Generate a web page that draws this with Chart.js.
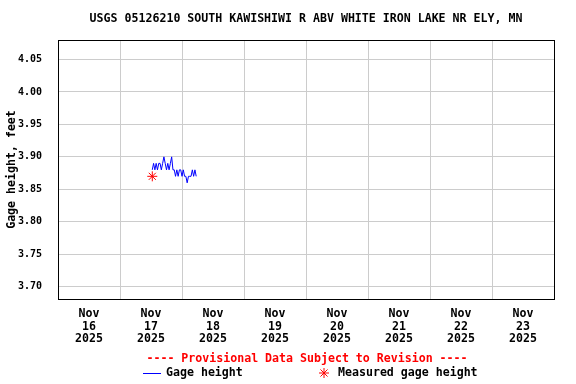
<!DOCTYPE html>
<html>
<head>
<meta charset="utf-8">
<script src="https://cdn.jsdelivr.net/npm/chart.js@4"></script>
<style>
  html, body { margin: 0; padding: 0; background: #fff; }
  #wrap { width: 576px; height: 384px; }
</style>
</head>
<body>
<div id="wrap"><canvas id="gageChart" width="576" height="384"></canvas></div>
<script>
const DAY = 86400000;
const axisStart = Date.parse("2025-11-16T00:00");
const axisEnd = Date.parse("2025-11-24T00:00");

// gage height, 30-minute readings starting at firstReading
const firstReading = "2025-11-17T12:30";
const gageHeight = [
  3.88, 3.89, 3.88, 3.89, 3.88, 3.89, 3.89, 3.88, 3.89, 3.90,
  3.89, 3.88, 3.89, 3.88, 3.89, 3.90, 3.88, 3.88, 3.87, 3.88,
  3.87, 3.88, 3.88, 3.87, 3.88, 3.87, 3.87, 3.86, 3.87, 3.87,
  3.87, 3.88, 3.87, 3.88, 3.87
];
const measuredTimes = ["2025-11-17T12:30"];
const measuredHeight = [3.87];

const dayLabels = [["Nov", "16", "2025"], ["Nov", "17", "2025"], ["Nov", "18", "2025"], ["Nov", "19", "2025"],
                   ["Nov", "20", "2025"], ["Nov", "21", "2025"], ["Nov", "22", "2025"], ["Nov", "23", "2025"]];
const yTicks = [3.70, 3.75, 3.80, 3.85, 3.90, 3.95, 4.00, 4.05];

const startMs = Date.parse(firstReading);
const gageData = gageHeight.map((v, i) => ({ x: startMs + i * 1800000, y: v }));
const measuredData = measuredTimes.map((t, i) => ({ x: Date.parse(t), y: measuredHeight[i] }));

const FONT = "'DejaVu Sans Mono', 'Liberation Mono', monospace";
const FS = 11.6;

const frameAndFooter = {
  id: "frameAndFooter",
  afterDraw(chart) {
    const ctx = chart.ctx;
    const a = chart.chartArea;
    ctx.save();
    ctx.strokeStyle = "#000";
    ctx.lineWidth = 1;
    ctx.strokeRect(Math.round(a.left) + 0.5, Math.round(a.top) + 0.5,
                   Math.round(a.right - a.left), Math.round(a.bottom - a.top));

    ctx.font = "bold " + FS + "px " + FONT;
    ctx.textBaseline = "middle";
    ctx.textAlign = "center";
    ctx.fillStyle = "#ff0000";
    ctx.fillText("---- Provisional Data Subject to Revision ----", 307, 359);
    ctx.textAlign = "left";
    ctx.fillStyle = "#000";
    ctx.fillText("Gage height", 166, 373);
    ctx.fillText("Measured gage height", 338, 373);
    ctx.strokeStyle = "#0000ff";
    ctx.beginPath();
    ctx.moveTo(143, 373.5);
    ctx.lineTo(161, 373.5);
    ctx.stroke();
    ctx.strokeStyle = "#ff0000";
    ctx.beginPath();
    for (let k = 0; k < 4; k++) {
      const ang = k * Math.PI / 4;
      ctx.moveTo(324 - 5 * Math.cos(ang), 373 - 5 * Math.sin(ang));
      ctx.lineTo(324 + 5 * Math.cos(ang), 373 + 5 * Math.sin(ang));
    }
    ctx.stroke();
    ctx.restore();
  }
};

new Chart(document.getElementById("gageChart"), {
  type: "line",
  data: {
    datasets: [
      {
        label: "Gage height",
        data: gageData,
        borderColor: "#0000ff",
        borderWidth: 1,
        pointRadius: 0,
        tension: 0,
        fill: false
      },
      {
        label: "Measured gage height",
        data: measuredData,
        showLine: false,
        pointStyle: "star",
        pointRadius: 5,
        borderColor: "#ff0000",
        backgroundColor: "#ff0000",
        borderWidth: 1
      }
    ]
  },
  plugins: [frameAndFooter],
  options: {
    responsive: false,
    animation: false,
    layout: { padding: { left: 0, right: 22, top: 0, bottom: 35 } },
    plugins: {
      legend: { display: false },
      tooltip: { enabled: false },
      title: {
        display: true,
        fullSize: false,
        text: "USGS 05126210 SOUTH KAWISHIWI R ABV WHITE IRON LAKE NR ELY, MN",
        color: "#000",
        font: { family: FONT, size: FS, weight: "bold", lineHeight: 1.2 },
        padding: { top: 12.5, bottom: 13.6 }
      }
    },
    scales: {
      x: {
        type: "linear",
        min: axisStart,
        max: axisEnd,
        afterBuildTicks(scale) {
          scale.ticks = [];
          for (let i = 0; i <= dayLabels.length; i++) scale.ticks.push({ value: axisStart + i * DAY });
        },
        afterFit(scale) { scale.height = 50; },
        grid: { color: "#cccccc", lineWidth: 1, drawTicks: false },
        border: { color: "#000", width: 1 },
        ticks: {
          autoSkip: false,
          maxRotation: 0,
          padding: 8,
          labelOffset: 31,
          color: "#000",
          font: { family: FONT, size: FS, weight: "bold", lineHeight: 1.12 },
          callback(value, index) { return dayLabels[index] || ""; }
        }
      },
      y: {
        min: 3.681,
        max: 4.08,
        afterBuildTicks(scale) { scale.ticks = yTicks.map(v => ({ value: v })); },
        afterFit(scale) { scale.width = 58; },
        grid: { color: "#cccccc", lineWidth: 1, drawTicks: false },
        border: { color: "#000", width: 1 },
        title: {
          display: true,
          text: "Gage height, feet",
          color: "#000",
          font: { family: FONT, size: FS, weight: "bold" },
          padding: { top: 5, bottom: 0 }
        },
        ticks: {
          padding: 16,
          color: "#000",
          font: { family: FONT, size: 10, weight: "bold" },
          callback(value) { return value.toFixed(2); }
        }
      }
    }
  }
});
</script>
</body>
</html>
